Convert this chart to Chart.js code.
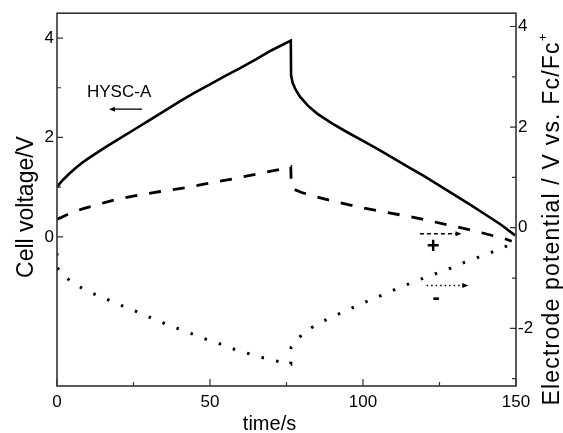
<!DOCTYPE html>
<html>
<head>
<meta charset="utf-8">
<script src="https://cdn.jsdelivr.net/npm/chart.js@4.4.1/dist/chart.umd.min.js"></script>
<style>
  html, body { margin: 0; padding: 0; background: #fff; }
  #wrap { width: 563px; height: 433px; }
</style>
</head>
<body>
<div id="wrap"><canvas id="chart" width="563" height="433"></canvas></div>
<script>
// === Data ===
// cell voltage (left axis)
const cellTime    = [0, 1, 2, 4, 6, 8, 10, 13, 16, 20, 25, 30, 35, 40, 45, 50, 55, 60, 65, 70, 76.4,
                     76.5, 77, 78, 79.4, 82, 85, 90, 95, 100, 105, 110, 115, 120, 125, 130, 135, 140, 145, 149.7];
const cellVoltage = [1.0, 1.08, 1.15, 1.27, 1.38, 1.48, 1.57, 1.69, 1.81, 1.96, 2.15, 2.34, 2.53, 2.72, 2.90, 3.07, 3.24, 3.40, 3.57, 3.75, 3.95,
                     3.25, 3.10, 2.96, 2.82, 2.64, 2.48, 2.28, 2.10, 1.93, 1.76, 1.58, 1.40, 1.22, 1.03, 0.84, 0.65, 0.45, 0.25, 0.03];

// positive electrode (right axis, dashed)
const posTime      = [0, 1.2, 4.8, 8.6, 12.7, 17.3, 24.9, 33.7, 42.4, 48.4, 58.2, 66.3, 74, 76.4, 76.5, 76.8, 77.6, 80, 83.8, 91.4, 99.6, 107.2, 115.4, 123, 131.1, 138.8, 146.4, 148.6];
const posPotential = [0.17, 0.2, 0.30, 0.38, 0.45, 0.53, 0.63, 0.72, 0.80, 0.87, 0.98, 1.08, 1.17, 1.21, 0.97, 0.82, 0.76, 0.70, 0.63, 0.51, 0.40, 0.31, 0.22, 0.12, 0.01, -0.10, -0.22, -0.27];

// negative electrode (right axis, dotted)
const negTime      = [0, 0.01, 1.3, 5.9, 10.8, 15.4, 20, 24.9, 29.5, 34.2, 38.9, 43.7, 48.4, 53.3, 57.7, 62.5, 67.1, 71.8, 76.4, 76.5, 80.5, 85.2, 90.0, 94.7, 99.5, 104.2, 108.8, 113.2, 118.1, 123, 127.9, 132.2, 137.1, 142, 146.7, 149.5];
const negPotential = [-0.5, -0.78, -0.91, -1.13, -1.28, -1.40, -1.52, -1.64, -1.76, -1.88, -1.99, -2.10, -2.21, -2.31, -2.41, -2.50, -2.58, -2.65, -2.71, -2.38, -2.09, -1.91, -1.77, -1.64, -1.51, -1.39, -1.27, -1.16, -1.04, -0.93, -0.82, -0.71, -0.60, -0.49, -0.37, -0.28];

// tick values
const xMajor  = [0, 50, 100, 150];
const xMinor  = [25, 75, 125];
const yMajor  = [0, 2, 4];
const yMinor  = [1, 3];
const y2Major = [-2, 0, 2, 4];
const y2Minor = [-3, -1, 1, 3];

// annotations (data units: time, value on given axis)
const hyscLabel  = { text: 'HYSC-A', t: 20.3, v: 2.91, axis: 'y' };
const hyscArrow  = { t0: 27.8, t1: 17.0, v: 2.57, axis: 'y' };
const posArrow   = { t0: 118.6, t1: 132.2, v: -0.12, axis: 'y2' };
const posSign    = { text: '+', t: 122.9, v: -0.38, axis: 'y2' };
const negArrow   = { t0: 120.8, t1: 134.4, v: -1.15, axis: 'y2' };
const negSign    = { text: '-', t: 123.9, v: -1.39, axis: 'y2' };

const FONT = '"Liberation Sans", Arial, Helvetica, sans-serif';
const INK = '#000';
const FRAME = '#333';

function toPoints(xs, ys) {
    return xs.map((x, i) => ({ x: x, y: ys[i] }));
}

// === Plugins ===
const frameAndTicks = {
    id: 'frameAndTicks',
    afterDatasetsDraw(chart) {
        const { ctx, chartArea: a, scales } = chart;
        ctx.save();
        ctx.strokeStyle = FRAME;
        ctx.lineWidth = 1.6;
        ctx.strokeRect(a.left, a.top, a.right - a.left, a.bottom - a.top);

        ctx.lineWidth = 1.2;
        ctx.beginPath();
        const tickX = (vals, len) => vals.forEach(v => {
            const px = scales.x.getPixelForValue(v);
            ctx.moveTo(px, a.bottom); ctx.lineTo(px, a.bottom - len);
        });
        const tickLeft = (vals, len) => vals.forEach(v => {
            const py = scales.y.getPixelForValue(v);
            ctx.moveTo(a.left, py); ctx.lineTo(a.left + len, py);
        });
        const tickRight = (vals, len) => vals.forEach(v => {
            const py = scales.y2.getPixelForValue(v);
            ctx.moveTo(a.right, py); ctx.lineTo(a.right - len, py);
        });
        tickX(xMajor, 7); tickX(xMinor, 4);
        tickLeft(yMajor, 6); tickLeft(yMinor, 4);
        tickRight(y2Major, 6); tickRight(y2Minor, 4);
        ctx.stroke();
        ctx.restore();
    }
};

function arrow(ctx, x0, x1, y, dash, width) {
    const dir = Math.sign(x1 - x0);
    ctx.save();
    ctx.strokeStyle = INK;
    ctx.fillStyle = INK;
    ctx.lineWidth = width;
    ctx.setLineDash(dash);
    ctx.beginPath();
    ctx.moveTo(x0, y);
    ctx.lineTo(x1 - dir * 4, y);
    ctx.stroke();
    ctx.setLineDash([]);
    ctx.beginPath();
    ctx.moveTo(x1, y);
    ctx.lineTo(x1 - dir * 6, y - 2.5);
    ctx.lineTo(x1 - dir * 6, y + 2.5);
    ctx.closePath();
    ctx.fill();
    ctx.restore();
}

const annotations = {
    id: 'annotations',
    afterDatasetsDraw(chart) {
        const { ctx, scales } = chart;
        const px = t => scales.x.getPixelForValue(t);
        const py = (v, axis) => scales[axis].getPixelForValue(v);

        ctx.save();
        ctx.fillStyle = INK;
        ctx.textAlign = 'center';
        ctx.textBaseline = 'middle';
        ctx.font = '17px ' + FONT;
        ctx.fillText(hyscLabel.text, px(hyscLabel.t), py(hyscLabel.v, hyscLabel.axis));
        ctx.font = 'bold 22px ' + FONT;
        ctx.fillText(posSign.text, px(posSign.t), py(posSign.v, posSign.axis));
        ctx.fillText(negSign.text, px(negSign.t), py(negSign.v, negSign.axis));
        ctx.restore();

        arrow(ctx, px(hyscArrow.t0), px(hyscArrow.t1), py(hyscArrow.v, hyscArrow.axis), [], 1.3);
        arrow(ctx, px(posArrow.t0), px(posArrow.t1), py(posArrow.v, posArrow.axis), [4, 3], 1.5);
        arrow(ctx, px(negArrow.t0), px(negArrow.t1), py(negArrow.v, negArrow.axis), [1.5, 3], 1.5);
    }
};

const axisTitles = {
    id: 'axisTitles',
    afterDraw(chart) {
        const { ctx, chartArea: a } = chart;
        ctx.save();
        ctx.fillStyle = INK;
        ctx.textBaseline = 'middle';

        // bottom
        ctx.font = '20px ' + FONT;
        ctx.textAlign = 'center';
        ctx.fillText('time/s', a.left + (a.right - a.left) * 0.463, 424);

        // left
        ctx.save();
        ctx.translate(27, 207);
        ctx.rotate(-Math.PI / 2);
        ctx.font = '23px ' + FONT;
        ctx.fillText('Cell voltage/V', 0, 0);
        ctx.restore();

        // right, with superscript +
        ctx.save();
        ctx.translate(553, 219);
        ctx.rotate(-Math.PI / 2);
        ctx.letterSpacing = '1.2px';
        const main = 'Electrode potential / V vs. Fc/Fc';
        ctx.font = '23px ' + FONT;
        const w1 = ctx.measureText(main).width;
        ctx.font = '13px ' + FONT;
        const w2 = ctx.measureText('+').width;
        const start = -(w1 + w2) / 2;
        ctx.textAlign = 'left';
        ctx.font = '23px ' + FONT;
        ctx.fillText(main, start, 0);
        ctx.font = '13px ' + FONT;
        ctx.fillText('+', start + w1, -10);
        ctx.restore();

        ctx.restore();
    }
};

// === Build ===
const tickFont = { family: FONT, size: 17 };

new Chart(document.getElementById('chart'), {
    type: 'scatter',
    data: {
        datasets: [
            {
                label: 'Cell voltage',
                data: toPoints(cellTime, cellVoltage),
                yAxisID: 'y',
                showLine: true,
                borderColor: INK,
                borderWidth: 2.6,
                pointRadius: 0,
                tension: 0
            },
            {
                label: 'Positive electrode',
                data: toPoints(posTime, posPotential),
                yAxisID: 'y2',
                showLine: true,
                borderColor: INK,
                borderWidth: 2.8,
                borderDash: [12, 12],
                pointRadius: 0,
                tension: 0
            },
            {
                label: 'Negative electrode',
                data: toPoints(negTime, negPotential),
                yAxisID: 'y2',
                showLine: true,
                borderColor: INK,
                borderWidth: 3,
                borderDash: [2.5, 12.5],
                pointRadius: 0,
                tension: 0
            }
        ]
    },
    options: {
        responsive: false,
        animation: false,
        layout: { padding: { top: 13, left: 0, right: 0, bottom: 0 } },
        plugins: { legend: { display: false }, tooltip: { enabled: false } },
        scales: {
            x: {
                type: 'linear',
                position: 'bottom',
                min: 0,
                max: 150,
                grid: { display: false, drawTicks: false },
                border: { display: false },
                afterBuildTicks: s => { s.ticks = xMajor.map(v => ({ value: v })); },
                afterFit: s => { s.height = 47; },
                ticks: { color: INK, font: tickFont, padding: 6, maxRotation: 0 }
            },
            y: {
                type: 'linear',
                position: 'left',
                min: -3,
                max: 4.5,
                grid: { display: false, drawTicks: false },
                border: { display: false },
                afterBuildTicks: s => { s.ticks = yMajor.map(v => ({ value: v })); },
                afterFit: s => { s.width = 57; },
                ticks: { color: INK, font: tickFont, padding: 3 }
            },
            y2: {
                type: 'linear',
                position: 'right',
                min: -3.146,
                max: 4.264,
                grid: { display: false, drawTicks: false },
                border: { display: false },
                afterBuildTicks: s => { s.ticks = y2Major.map(v => ({ value: v })); },
                afterFit: s => { s.width = 47; },
                ticks: { color: INK, font: tickFont, padding: 2 }
            }
        }
    },
    plugins: [frameAndTicks, annotations, axisTitles]
});
</script>
</body>
</html>
